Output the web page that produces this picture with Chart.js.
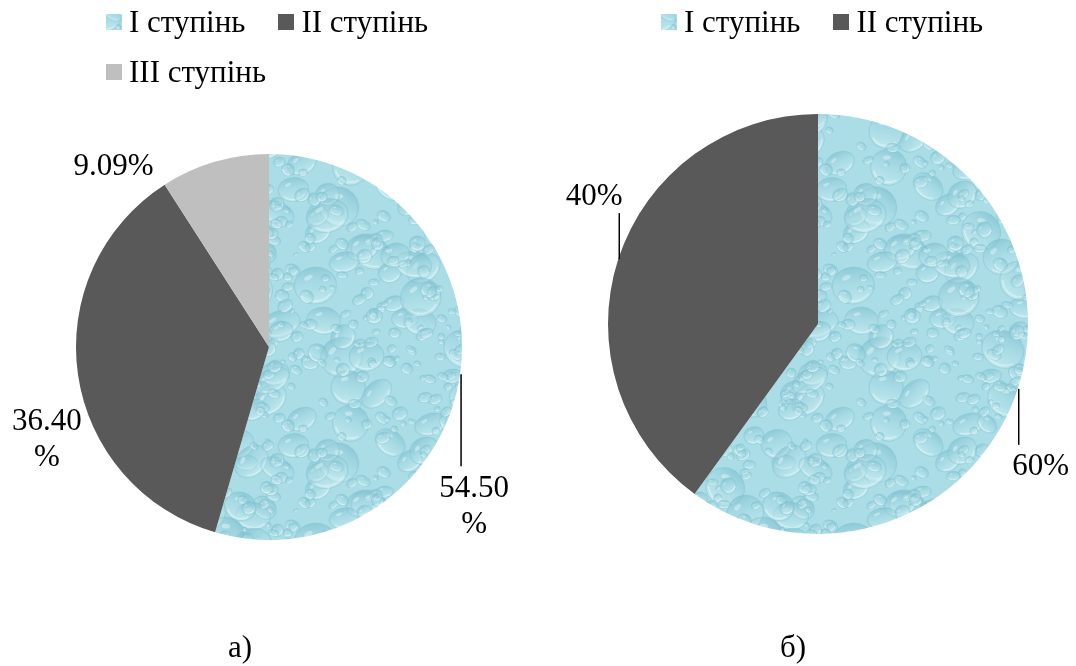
<!DOCTYPE html>
<html>
<head>
<meta charset="utf-8">
<script src="https://cdn.jsdelivr.net/npm/chart.js@4.4.1/dist/chart.umd.min.js"></script>
<style>
  body { margin: 0; background: #fff; }
  #wrap { position: relative; width: 1076px; height: 666px; overflow: hidden; font-family: "Liberation Serif", "Times New Roman", serif; color: #000; }
  canvas.pie { position: absolute; top: 0; }
  .legend { position: absolute; top: -3px; display: flex; flex-wrap: wrap; column-gap: 33px; font-size: 31px; line-height: 50px; }
  .legend .item { display: flex; align-items: center; white-space: nowrap; }
  .legend canvas { width: 16px; height: 16px; margin-right: 7px; }
  .caption { position: absolute; top: 631px; font-size: 31px; line-height: 31px; }
</style>
</head>
<body>
<div id="wrap">
  <canvas id="chartA" class="pie" width="538" height="666" style="left:0"></canvas>
  <canvas id="chartB" class="pie" width="538" height="666" style="left:538px"></canvas>
  <div id="legendA" class="legend" style="left:106px; width:340px"></div>
  <div id="legendB" class="legend" style="left:661px; width:400px"></div>
  <div class="caption" style="left:228px">а)</div>
  <div class="caption" style="left:780px">б)</div>
</div>
<script>
const categoriesA = ["I ступінь", "II ступінь", "III ступінь"];
const valuesA = [54.5, 36.4, 9.09];
const decimalsA = 2;

const categoriesB = ["I ступінь", "II ступінь"];
const valuesB = [60, 40];
const decimalsB = 0;

const FONT = '"Liberation Serif", "Times New Roman", serif';

// water drops texture for the first slice (seeded, so it looks the same every time)
function makeWaterPattern() {
  const size = 256;
  const c = document.createElement("canvas");
  c.width = size;
  c.height = size;
  const g = c.getContext("2d");
  g.fillStyle = "#aadde6";
  g.fillRect(0, 0, size, size);

  let seed = 4242;
  function rnd() {
    seed = (seed * 16807) % 2147483647;
    return (seed - 1) / 2147483646;
  }

  function drop(x, y, r, sq, rot) {
    for (let ox = -size; ox <= size; ox += size) {
      for (let oy = -size; oy <= size; oy += size) {
        const cx = x + ox;
        const cy = y + oy;
        if (cx < -40 || cx > size + 40 || cy < -40 || cy > size + 40) continue;
        g.save();
        g.translate(cx, cy);
        g.rotate(rot);
        g.scale(1, sq);
        const gr = g.createLinearGradient(0, -r, 0, r);
        gr.addColorStop(0, "rgba(118,186,202,0.55)");
        gr.addColorStop(0.5, "rgba(168,218,228,0.35)");
        gr.addColorStop(1, "rgba(214,242,246,0.6)");
        g.beginPath();
        g.arc(0, 0, r, 0, Math.PI * 2);
        g.fillStyle = gr;
        g.fill();
        g.lineWidth = 1.2;
        g.strokeStyle = "rgba(128,192,206,0.45)";
        g.stroke();
        g.beginPath();
        g.arc(0, 0, r * 0.85, 0.2 * Math.PI, 0.8 * Math.PI);
        g.strokeStyle = "rgba(225,247,250,0.6)";
        g.lineWidth = 1.5;
        g.stroke();
        g.beginPath();
        g.ellipse(-r * 0.3, -r * 0.45, r * 0.22, r * 0.12, -0.5, 0, Math.PI * 2);
        g.fillStyle = "rgba(230,248,250,0.45)";
        g.fill();
        g.restore();
      }
    }
  }

  for (let i = 0; i < 60; i++) {
    drop(rnd() * size, rnd() * size, 9 + rnd() * 13, 0.6 + rnd() * 0.4, rnd() * 1.5 - 0.75);
  }
  for (let i = 0; i < 220; i++) {
    drop(rnd() * size, rnd() * size, 2 + rnd() * 6, 0.6 + rnd() * 0.4, rnd() * 1.5 - 0.75);
  }
  return g.createPattern(c, "repeat");
}

const waterPattern = makeWaterPattern();

// labels outside the slices, offsets from the middle of the arc edge
const labelPlugin = {
  id: "sliceLabels",
  afterDatasetsDraw(chart, args, opts) {
    const ctx = chart.ctx;
    const meta = chart.getDatasetMeta(0);
    const values = chart.data.datasets[0].data;
    ctx.save();
    ctx.font = "31px " + FONT;
    ctx.fillStyle = "#000";
    ctx.textAlign = "center";
    ctx.textBaseline = "middle";
    meta.data.forEach(function (arc, i) {
      const p = arc.getProps(["x", "y", "startAngle", "endAngle", "outerRadius"], true);
      const mid = (p.startAngle + p.endAngle) / 2;
      const ax = p.x + Math.cos(mid) * p.outerRadius;
      const ay = p.y + Math.sin(mid) * p.outerRadius;
      const o = opts.offsets[i];
      const text = values[i].toFixed(opts.decimals) + "%";
      if (o.line) {
        ctx.beginPath();
        ctx.strokeStyle = "#000";
        ctx.lineWidth = 1.5;
        ctx.moveTo(ax + 1, ay);
        ctx.lineTo(ax + 1, ay + o.line);
        ctx.stroke();
      }
      if (o.wrap) {
        ctx.fillText(text.slice(0, -1), ax + o.dx, ay + o.dy);
        ctx.fillText("%", ax + o.dx, ay + o.dy + 36);
      } else {
        ctx.fillText(text, ax + o.dx, ay + o.dy);
      }
    });
    ctx.restore();
  }
};

function makePie(id, categories, values, colors, radius, padding, labelOpts) {
  return new Chart(document.getElementById(id), {
    type: "pie",
    data: {
      labels: categories,
      datasets: [{
        data: values,
        backgroundColor: colors,
        borderWidth: 0,
        radius: radius
      }]
    },
    options: {
      responsive: false,
      animation: false,
      layout: { padding: padding },
      plugins: {
        legend: { display: false },
        tooltip: { enabled: false },
        sliceLabels: labelOpts
      }
    },
    plugins: [labelPlugin]
  });
}

function buildLegend(chart, boxId) {
  const box = document.getElementById(boxId);
  const items = chart.options.plugins.legend.labels.generateLabels(chart);
  items.forEach(function (item) {
    const div = document.createElement("div");
    div.className = "item";
    const sw = document.createElement("canvas");
    sw.width = 16;
    sw.height = 16;
    const sctx = sw.getContext("2d");
    sctx.fillStyle = item.fillStyle;
    sctx.fillRect(0, 0, 16, 16);
    const span = document.createElement("span");
    span.textContent = item.text;
    div.appendChild(sw);
    div.appendChild(span);
    box.appendChild(div);
  });
}

const chartA = makePie("chartA", categoriesA, valuesA,
  [waterPattern, "#595959", "#bfbfbf"], 193,
  { left: 0, right: 0, top: 28, bottom: 0 },
  {
    decimals: decimalsA,
    offsets: [
      { dx: 14, dy: 115, line: 92, wrap: true },
      { dx: -31, dy: 47, line: 0, wrap: true },
      { dx: -101, dy: 5, line: 0, wrap: false }
    ]
  });

const chartB = makePie("chartB", categoriesB, valuesB,
  [waterPattern, "#595959"], 210,
  { left: 22, right: 0, top: 0, bottom: 18 },
  {
    decimals: decimalsB,
    offsets: [
      { dx: 23, dy: 78, line: 56, wrap: false },
      { dx: -24, dy: -62, line: -46, wrap: false }
    ]
  });

buildLegend(chartA, "legendA");
buildLegend(chartB, "legendB");
</script>
</body>
</html>
